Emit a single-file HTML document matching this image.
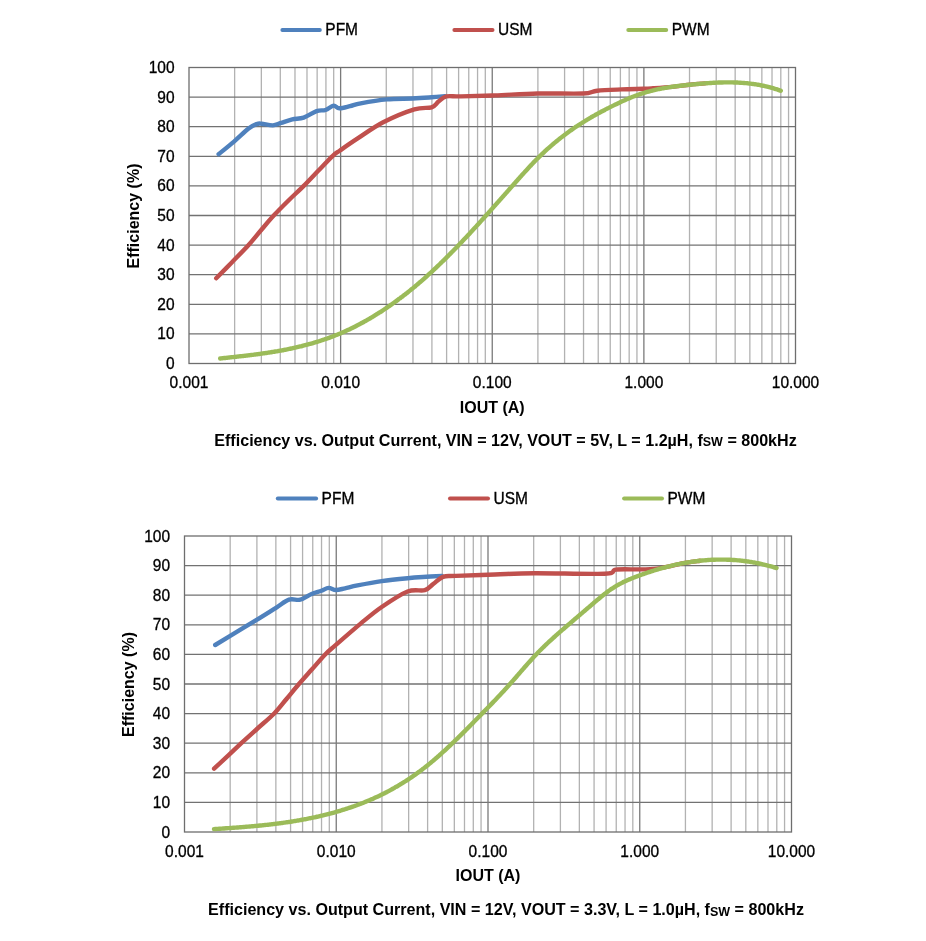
<!DOCTYPE html>
<html><head><meta charset="utf-8"><style>
html,body{margin:0;padding:0;background:#fff;}
svg{display:block;filter:blur(0.3px);}
.t{font-family:"Liberation Sans", sans-serif;font-size:15.5px;fill:#000;stroke:#000;stroke-width:0.3px;}
.b{font-family:"Liberation Sans", sans-serif;font-size:16px;font-weight:bold;fill:#000;}
.tt{font-family:"Liberation Sans", sans-serif;font-size:16.1px;font-weight:bold;fill:#000;}
.sub{font-size:12.5px;}
</style></head><body>
<svg width="926" height="941" viewBox="0 0 926 941">
<rect width="926" height="941" fill="#fff"/>
<line x1="234.64" y1="67.5" x2="234.64" y2="363.5" stroke="#b2b2b2" stroke-width="1.3"/>
<line x1="261.34" y1="67.5" x2="261.34" y2="363.5" stroke="#b2b2b2" stroke-width="1.3"/>
<line x1="280.29" y1="67.5" x2="280.29" y2="363.5" stroke="#b2b2b2" stroke-width="1.3"/>
<line x1="294.98" y1="67.5" x2="294.98" y2="363.5" stroke="#b2b2b2" stroke-width="1.3"/>
<line x1="306.99" y1="67.5" x2="306.99" y2="363.5" stroke="#b2b2b2" stroke-width="1.3"/>
<line x1="317.14" y1="67.5" x2="317.14" y2="363.5" stroke="#b2b2b2" stroke-width="1.3"/>
<line x1="325.93" y1="67.5" x2="325.93" y2="363.5" stroke="#b2b2b2" stroke-width="1.3"/>
<line x1="333.69" y1="67.5" x2="333.69" y2="363.5" stroke="#b2b2b2" stroke-width="1.3"/>
<line x1="386.27" y1="67.5" x2="386.27" y2="363.5" stroke="#b2b2b2" stroke-width="1.3"/>
<line x1="412.97" y1="67.5" x2="412.97" y2="363.5" stroke="#b2b2b2" stroke-width="1.3"/>
<line x1="431.91" y1="67.5" x2="431.91" y2="363.5" stroke="#b2b2b2" stroke-width="1.3"/>
<line x1="446.61" y1="67.5" x2="446.61" y2="363.5" stroke="#b2b2b2" stroke-width="1.3"/>
<line x1="458.61" y1="67.5" x2="458.61" y2="363.5" stroke="#b2b2b2" stroke-width="1.3"/>
<line x1="468.76" y1="67.5" x2="468.76" y2="363.5" stroke="#b2b2b2" stroke-width="1.3"/>
<line x1="477.56" y1="67.5" x2="477.56" y2="363.5" stroke="#b2b2b2" stroke-width="1.3"/>
<line x1="485.31" y1="67.5" x2="485.31" y2="363.5" stroke="#b2b2b2" stroke-width="1.3"/>
<line x1="537.89" y1="67.5" x2="537.89" y2="363.5" stroke="#b2b2b2" stroke-width="1.3"/>
<line x1="564.59" y1="67.5" x2="564.59" y2="363.5" stroke="#b2b2b2" stroke-width="1.3"/>
<line x1="583.54" y1="67.5" x2="583.54" y2="363.5" stroke="#b2b2b2" stroke-width="1.3"/>
<line x1="598.23" y1="67.5" x2="598.23" y2="363.5" stroke="#b2b2b2" stroke-width="1.3"/>
<line x1="610.24" y1="67.5" x2="610.24" y2="363.5" stroke="#b2b2b2" stroke-width="1.3"/>
<line x1="620.39" y1="67.5" x2="620.39" y2="363.5" stroke="#b2b2b2" stroke-width="1.3"/>
<line x1="629.18" y1="67.5" x2="629.18" y2="363.5" stroke="#b2b2b2" stroke-width="1.3"/>
<line x1="636.94" y1="67.5" x2="636.94" y2="363.5" stroke="#b2b2b2" stroke-width="1.3"/>
<line x1="689.52" y1="67.5" x2="689.52" y2="363.5" stroke="#b2b2b2" stroke-width="1.3"/>
<line x1="716.22" y1="67.5" x2="716.22" y2="363.5" stroke="#b2b2b2" stroke-width="1.3"/>
<line x1="735.16" y1="67.5" x2="735.16" y2="363.5" stroke="#b2b2b2" stroke-width="1.3"/>
<line x1="749.86" y1="67.5" x2="749.86" y2="363.5" stroke="#b2b2b2" stroke-width="1.3"/>
<line x1="761.86" y1="67.5" x2="761.86" y2="363.5" stroke="#b2b2b2" stroke-width="1.3"/>
<line x1="772.01" y1="67.5" x2="772.01" y2="363.5" stroke="#b2b2b2" stroke-width="1.3"/>
<line x1="780.81" y1="67.5" x2="780.81" y2="363.5" stroke="#b2b2b2" stroke-width="1.3"/>
<line x1="788.56" y1="67.5" x2="788.56" y2="363.5" stroke="#b2b2b2" stroke-width="1.3"/>
<line x1="189" y1="333.90" x2="795.5" y2="333.90" stroke="#727272" stroke-width="1.3"/>
<line x1="189" y1="304.30" x2="795.5" y2="304.30" stroke="#727272" stroke-width="1.3"/>
<line x1="189" y1="274.70" x2="795.5" y2="274.70" stroke="#727272" stroke-width="1.3"/>
<line x1="189" y1="245.10" x2="795.5" y2="245.10" stroke="#727272" stroke-width="1.3"/>
<line x1="189" y1="215.50" x2="795.5" y2="215.50" stroke="#727272" stroke-width="1.3"/>
<line x1="189" y1="185.90" x2="795.5" y2="185.90" stroke="#727272" stroke-width="1.3"/>
<line x1="189" y1="156.30" x2="795.5" y2="156.30" stroke="#727272" stroke-width="1.3"/>
<line x1="189" y1="126.70" x2="795.5" y2="126.70" stroke="#727272" stroke-width="1.3"/>
<line x1="189" y1="97.10" x2="795.5" y2="97.10" stroke="#727272" stroke-width="1.3"/>
<line x1="340.62" y1="67.5" x2="340.62" y2="363.5" stroke="#7a7a7a" stroke-width="1.3"/>
<line x1="492.25" y1="67.5" x2="492.25" y2="363.5" stroke="#7a7a7a" stroke-width="1.3"/>
<line x1="643.88" y1="67.5" x2="643.88" y2="363.5" stroke="#7a7a7a" stroke-width="1.3"/>
<rect x="189" y="67.5" width="606.5" height="296" fill="none" stroke="#6e6e6e" stroke-width="1.3"/>
<path d="M218.6,154.2 C221.17,152.10 229.00,145.87 234,141.6 C239.00,137.33 244.82,131.52 248.6,128.6 C252.38,125.68 254.53,124.92 256.7,124.1 C258.87,123.28 258.90,123.48 261.6,123.7 C264.30,123.92 269.67,125.53 272.9,125.4 C276.13,125.27 277.77,123.90 281,122.9 C284.23,121.90 288.52,120.28 292.3,119.4 C296.08,118.52 299.65,118.98 303.7,117.6 C307.75,116.22 312.97,112.37 316.6,111.1 C320.23,109.83 322.67,110.92 325.5,110 C328.33,109.08 331.30,105.88 333.6,105.6 C335.90,105.32 336.57,108.20 339.3,108.3 C342.03,108.40 346.43,107.03 350,106.2 C353.57,105.37 354.58,104.43 360.7,103.3 C366.82,102.17 378.05,100.20 386.7,99.4 C395.35,98.60 405.12,98.85 412.6,98.5 C420.08,98.15 426.20,97.68 431.6,97.3 C437.00,96.92 442.77,96.38 445,96.2" fill="none" stroke="#4F81BD" stroke-width="4.4" stroke-linecap="round" stroke-linejoin="round"/>
<path d="M216.2,278.3 C218.83,275.62 226.60,267.75 232,262.2 C237.40,256.65 243.77,250.32 248.6,245 C253.43,239.68 256.82,235.20 261,230.3 C265.18,225.40 269.12,220.57 273.7,215.6 C278.28,210.63 283.50,205.45 288.5,200.5 C293.50,195.55 298.78,190.82 303.7,185.9 C308.62,180.98 313.15,176.02 318,171 C322.85,165.98 329.13,159.22 332.8,155.8 C336.47,152.38 335.92,153.35 340,150.5 C344.08,147.65 350.10,143.40 357.3,138.7 C364.50,134.00 373.70,127.18 383.2,122.3 C392.70,117.42 406.23,111.90 414.3,109.4 C422.37,106.90 427.57,108.60 431.6,107.3 C435.63,106.00 436.05,103.42 438.5,101.6 C440.95,99.78 442.55,97.27 446.3,96.4 C450.05,95.53 452.88,96.57 461,96.4 C469.12,96.23 482.20,95.88 495,95.4 C507.80,94.92 523.13,93.82 537.8,93.5 C552.47,93.18 573.10,93.97 583,93.5 C592.90,93.03 590.73,91.38 597.2,90.7 C603.67,90.02 614.07,89.72 621.8,89.4 C629.53,89.08 638.40,88.98 643.6,88.8 C648.80,88.62 648.27,88.63 653,88.3 C657.73,87.97 665.83,87.42 672,86.83 C678.17,86.23 684.50,85.31 690,84.73 C695.50,84.15 702.50,83.60 705,83.37" fill="none" stroke="#C0504D" stroke-width="4.4" stroke-linecap="round" stroke-linejoin="round"/>
<path d="M220.2,358.49 C220.53,358.45 221.53,358.34 222.2,358.27 C222.87,358.20 223.53,358.12 224.2,358.05 C224.87,357.98 225.53,357.91 226.2,357.84 C226.87,357.77 227.53,357.69 228.2,357.62 C228.87,357.55 229.53,357.47 230.2,357.4 C230.87,357.33 231.53,357.25 232.2,357.18 C232.87,357.11 233.53,357.04 234.2,356.97 C234.87,356.90 235.53,356.81 236.2,356.74 C236.87,356.67 237.53,356.59 238.2,356.52 C238.87,356.45 239.53,356.38 240.2,356.3 C240.87,356.23 241.53,356.15 242.2,356.07 C242.87,355.99 243.53,355.91 244.2,355.83 C244.87,355.75 245.53,355.68 246.2,355.6 C246.87,355.52 247.53,355.44 248.2,355.36 C248.87,355.28 249.53,355.20 250.2,355.12 C250.87,355.04 251.53,354.95 252.2,354.87 C252.87,354.79 253.53,354.70 254.2,354.61 C254.87,354.52 255.53,354.44 256.2,354.35 C256.87,354.26 257.53,354.18 258.2,354.09 C258.87,354.00 259.53,353.91 260.2,353.82 C260.87,353.73 261.53,353.63 262.2,353.54 C262.87,353.45 263.53,353.36 264.2,353.26 C264.87,353.16 265.53,353.06 266.2,352.96 C266.87,352.86 267.53,352.76 268.2,352.66 C268.87,352.56 269.53,352.45 270.2,352.35 C270.87,352.25 271.53,352.15 272.2,352.04 C272.87,351.93 273.53,351.82 274.2,351.71 C274.87,351.60 275.53,351.49 276.2,351.38 C276.87,351.27 277.53,351.15 278.2,351.03 C278.87,350.91 279.53,350.79 280.2,350.67 C280.87,350.55 281.53,350.43 282.2,350.31 C282.87,350.19 283.53,350.06 284.2,349.93 C284.87,349.80 285.53,349.67 286.2,349.54 C286.87,349.41 287.53,349.27 288.2,349.14 C288.87,349.00 289.53,348.87 290.2,348.73 C290.87,348.59 291.53,348.45 292.2,348.31 C292.87,348.17 293.53,348.02 294.2,347.87 C294.87,347.72 295.53,347.57 296.2,347.42 C296.87,347.27 297.53,347.12 298.2,346.96 C298.87,346.80 299.53,346.64 300.2,346.48 C300.87,346.32 301.53,346.16 302.2,345.99 C302.87,345.82 303.53,345.65 304.2,345.48 C304.87,345.31 305.53,345.13 306.2,344.96 C306.87,344.78 307.53,344.61 308.2,344.43 C308.87,344.25 309.53,344.06 310.2,343.87 C310.87,343.68 311.53,343.49 312.2,343.3 C312.87,343.11 313.53,342.92 314.2,342.72 C314.87,342.52 315.53,342.32 316.2,342.12 C316.87,341.92 317.53,341.71 318.2,341.5 C318.87,341.29 319.53,341.08 320.2,340.86 C320.87,340.64 321.53,340.42 322.2,340.2 C322.87,339.98 323.53,339.76 324.2,339.53 C324.87,339.30 325.53,339.06 326.2,338.83 C326.87,338.59 327.53,338.36 328.2,338.12 C328.87,337.88 329.53,337.64 330.2,337.39 C330.87,337.14 331.53,336.89 332.2,336.64 C332.87,336.38 333.53,336.12 334.2,335.86 C334.87,335.60 335.53,335.34 336.2,335.07 C336.87,334.80 337.53,334.53 338.2,334.26 C338.87,333.99 339.53,333.70 340.2,333.42 C340.87,333.14 341.53,332.85 342.2,332.56 C342.87,332.27 343.53,331.98 344.2,331.68 C344.87,331.38 345.53,331.08 346.2,330.78 C346.87,330.48 347.53,330.17 348.2,329.86 C348.87,329.55 349.53,329.23 350.2,328.91 C350.87,328.59 351.53,328.27 352.2,327.94 C352.87,327.61 353.53,327.28 354.2,326.95 C354.87,326.62 355.53,326.28 356.2,325.94 C356.87,325.60 357.53,325.26 358.2,324.91 C358.87,324.56 359.53,324.21 360.2,323.85 C360.87,323.50 361.53,323.14 362.2,322.78 C362.87,322.42 363.53,322.05 364.2,321.68 C364.87,321.31 365.53,320.94 366.2,320.56 C366.87,320.18 367.53,319.80 368.2,319.41 C368.87,319.03 369.53,318.64 370.2,318.25 C370.87,317.86 371.53,317.46 372.2,317.06 C372.87,316.66 373.53,316.26 374.2,315.85 C374.87,315.44 375.53,315.03 376.2,314.62 C376.87,314.21 377.53,313.79 378.2,313.37 C378.87,312.95 379.53,312.52 380.2,312.09 C380.87,311.66 381.53,311.24 382.2,310.8 C382.87,310.37 383.53,309.92 384.2,309.48 C384.87,309.04 385.53,308.59 386.2,308.14 C386.87,307.69 387.53,307.24 388.2,306.78 C388.87,306.32 389.53,305.85 390.2,305.39 C390.87,304.93 391.53,304.46 392.2,303.99 C392.87,303.52 393.53,303.04 394.2,302.56 C394.87,302.08 395.53,301.60 396.2,301.11 C396.87,300.62 397.53,300.13 398.2,299.64 C398.87,299.15 399.53,298.65 400.2,298.15 C400.87,297.65 401.53,297.14 402.2,296.63 C402.87,296.12 403.53,295.62 404.2,295.1 C404.87,294.59 405.53,294.06 406.2,293.54 C406.87,293.02 407.53,292.49 408.2,291.96 C408.87,291.43 409.53,290.90 410.2,290.36 C410.87,289.82 411.53,289.28 412.2,288.73 C412.87,288.19 413.53,287.64 414.2,287.09 C414.87,286.54 415.53,285.98 416.2,285.42 C416.87,284.86 417.53,284.30 418.2,283.73 C418.87,283.16 419.53,282.59 420.2,282.02 C420.87,281.45 421.53,280.87 422.2,280.29 C422.87,279.71 423.53,279.12 424.2,278.53 C424.87,277.94 425.53,277.36 426.2,276.76 C426.87,276.16 427.53,275.56 428.2,274.96 C428.87,274.36 429.53,273.75 430.2,273.14 C430.87,272.53 431.53,271.92 432.2,271.3 C432.87,270.68 433.53,270.06 434.2,269.43 C434.87,268.81 435.53,268.18 436.2,267.55 C436.87,266.92 437.53,266.29 438.2,265.65 C438.87,265.01 439.53,264.37 440.2,263.72 C440.87,263.08 441.53,262.43 442.2,261.78 C442.87,261.13 443.53,260.48 444.2,259.82 C444.87,259.16 445.53,258.50 446.2,257.84 C446.87,257.18 447.53,256.52 448.2,255.85 C448.87,255.18 449.53,254.50 450.2,253.83 C450.87,253.16 451.53,252.49 452.2,251.81 C452.87,251.13 453.53,250.44 454.2,249.76 C454.87,249.07 455.53,248.39 456.2,247.7 C456.87,247.01 457.53,246.32 458.2,245.63 C458.87,244.94 459.53,244.24 460.2,243.54 C460.87,242.84 461.53,242.14 462.2,241.44 C462.87,240.74 463.53,240.03 464.2,239.32 C464.87,238.61 465.53,237.90 466.2,237.19 C466.87,236.48 467.53,235.77 468.2,235.05 C468.87,234.34 469.53,233.62 470.2,232.9 C470.87,232.18 471.53,231.46 472.2,230.74 C472.87,230.02 473.53,229.30 474.2,228.57 C474.87,227.84 475.53,227.11 476.2,226.38 C476.87,225.65 477.53,224.92 478.2,224.19 C478.87,223.46 479.53,222.73 480.2,221.99 C480.87,221.25 481.53,220.52 482.2,219.78 C482.87,219.04 483.53,218.31 484.2,217.57 C484.87,216.83 485.53,216.08 486.2,215.34 C486.87,214.60 487.53,213.85 488.2,213.11 C488.87,212.37 489.53,211.62 490.2,210.88 C490.87,210.13 491.53,209.39 492.2,208.64 C492.87,207.89 493.53,207.14 494.2,206.39 C494.87,205.64 495.53,204.89 496.2,204.14 C496.87,203.39 497.53,202.64 498.2,201.89 C498.87,201.14 499.53,200.38 500.2,199.63 C500.87,198.88 501.53,198.12 502.2,197.37 C502.87,196.62 503.53,195.86 504.2,195.11 C504.87,194.36 505.53,193.60 506.2,192.85 C506.87,192.10 507.53,191.34 508.2,190.59 C508.87,189.84 509.53,189.07 510.2,188.32 C510.87,187.56 511.53,186.81 512.2,186.06 C512.87,185.31 513.53,184.55 514.2,183.8 C514.87,183.05 515.53,182.29 516.2,181.54 C516.87,180.79 517.53,180.04 518.2,179.29 C518.87,178.54 519.53,177.80 520.2,177.05 C520.87,176.31 521.53,175.56 522.2,174.82 C522.87,174.08 523.53,173.35 524.2,172.61 C524.87,171.88 525.53,171.14 526.2,170.41 C526.87,169.68 527.53,168.96 528.2,168.24 C528.87,167.52 529.53,166.81 530.2,166.1 C530.87,165.39 531.53,164.68 532.2,163.98 C532.87,163.28 533.53,162.58 534.2,161.89 C534.87,161.20 535.53,160.52 536.2,159.84 C536.87,159.16 537.53,158.48 538.2,157.82 C538.87,157.16 539.53,156.50 540.2,155.85 C540.87,155.20 541.53,154.56 542.2,153.92 C542.87,153.28 543.53,152.65 544.2,152.03 C544.87,151.41 545.53,150.79 546.2,150.18 C546.87,149.57 547.53,148.97 548.2,148.37 C548.87,147.77 549.53,147.19 550.2,146.6 C550.87,146.01 551.53,145.43 552.2,144.86 C552.87,144.29 553.53,143.73 554.2,143.17 C554.87,142.61 555.53,142.06 556.2,141.51 C556.87,140.96 557.53,140.42 558.2,139.88 C558.87,139.34 559.53,138.81 560.2,138.29 C560.87,137.76 561.53,137.25 562.2,136.73 C562.87,136.21 563.53,135.70 564.2,135.2 C564.87,134.70 565.53,134.20 566.2,133.71 C566.87,133.22 567.53,132.73 568.2,132.25 C568.87,131.77 569.53,131.28 570.2,130.81 C570.87,130.34 571.53,129.87 572.2,129.41 C572.87,128.95 573.53,128.49 574.2,128.03 C574.87,127.58 575.53,127.12 576.2,126.68 C576.87,126.24 577.53,125.80 578.2,125.36 C578.87,124.92 579.53,124.49 580.2,124.06 C580.87,123.63 581.53,123.21 582.2,122.79 C582.87,122.37 583.53,121.95 584.2,121.54 C584.87,121.13 585.53,120.72 586.2,120.32 C586.87,119.92 587.53,119.52 588.2,119.12 C588.87,118.72 589.53,118.33 590.2,117.94 C590.87,117.55 591.53,117.16 592.2,116.78 C592.87,116.40 593.53,116.02 594.2,115.64 C594.87,115.26 595.53,114.88 596.2,114.51 C596.87,114.14 597.53,113.78 598.2,113.41 C598.87,113.04 599.53,112.68 600.2,112.32 C600.87,111.96 601.53,111.60 602.2,111.25 C602.87,110.90 603.53,110.55 604.2,110.2 C604.87,109.85 605.53,109.50 606.2,109.16 C606.87,108.81 607.53,108.47 608.2,108.13 C608.87,107.79 609.53,107.45 610.2,107.12 C610.87,106.79 611.53,106.45 612.2,106.12 C612.87,105.79 613.53,105.46 614.2,105.13 C614.87,104.80 615.53,104.48 616.2,104.16 C616.87,103.84 617.53,103.52 618.2,103.2 C618.87,102.88 619.53,102.57 620.2,102.26 C620.87,101.95 621.53,101.65 622.2,101.34 C622.87,101.03 623.53,100.73 624.2,100.43 C624.87,100.13 625.53,99.84 626.2,99.55 C626.87,99.26 627.53,98.97 628.2,98.69 C628.87,98.41 629.53,98.13 630.2,97.86 C630.87,97.59 631.53,97.31 632.2,97.05 C632.87,96.78 633.53,96.53 634.2,96.27 C634.87,96.01 635.53,95.76 636.2,95.51 C636.87,95.26 637.53,95.02 638.2,94.78 C638.87,94.54 639.53,94.31 640.2,94.08 C640.87,93.85 641.53,93.64 642.2,93.42 C642.87,93.20 643.53,92.99 644.2,92.78 C644.87,92.57 645.53,92.38 646.2,92.18 C646.87,91.99 647.53,91.79 648.2,91.61 C648.87,91.43 649.53,91.25 650.2,91.08 C650.87,90.91 651.53,90.73 652.2,90.57 C652.87,90.41 653.53,90.25 654.2,90.09 C654.87,89.93 655.53,89.78 656.2,89.63 C656.87,89.48 657.53,89.34 658.2,89.2 C658.87,89.06 659.53,88.93 660.2,88.8 C660.87,88.67 661.53,88.54 662.2,88.42 C662.87,88.30 663.53,88.18 664.2,88.06 C664.87,87.94 665.53,87.83 666.2,87.72 C666.87,87.61 667.53,87.50 668.2,87.39 C668.87,87.28 669.53,87.19 670.2,87.09 C670.87,86.99 671.53,86.89 672.2,86.8 C672.87,86.71 673.53,86.62 674.2,86.53 C674.87,86.44 675.53,86.35 676.2,86.27 C676.87,86.19 677.53,86.10 678.2,86.02 C678.87,85.94 679.53,85.86 680.2,85.78 C680.87,85.70 681.53,85.62 682.2,85.55 C682.87,85.48 683.53,85.41 684.2,85.34 C684.87,85.27 685.53,85.19 686.2,85.12 C686.87,85.05 687.53,84.98 688.2,84.91 C688.87,84.84 689.53,84.78 690.2,84.71 C690.87,84.64 691.53,84.58 692.2,84.51 C692.87,84.45 693.53,84.38 694.2,84.32 C694.87,84.26 695.53,84.19 696.2,84.13 C696.87,84.07 697.53,84.00 698.2,83.94 C698.87,83.88 699.53,83.82 700.2,83.76 C700.87,83.70 701.53,83.65 702.2,83.59 C702.87,83.53 703.53,83.48 704.2,83.43 C704.87,83.38 705.53,83.32 706.2,83.27 C706.87,83.22 707.53,83.18 708.2,83.13 C708.87,83.08 709.53,83.03 710.2,82.99 C710.87,82.95 711.53,82.91 712.2,82.87 C712.87,82.83 713.53,82.80 714.2,82.76 C714.87,82.73 715.53,82.69 716.2,82.66 C716.87,82.63 717.53,82.60 718.2,82.57 C718.87,82.54 719.53,82.52 720.2,82.5 C720.87,82.48 721.53,82.46 722.2,82.44 C722.87,82.42 723.53,82.41 724.2,82.4 C724.87,82.39 725.53,82.38 726.2,82.37 C726.87,82.36 727.53,82.36 728.2,82.36 C728.87,82.36 729.53,82.36 730.2,82.37 C730.87,82.38 731.53,82.39 732.2,82.4 C732.87,82.41 733.53,82.43 734.2,82.45 C734.87,82.47 735.53,82.49 736.2,82.51 C736.87,82.53 737.53,82.57 738.2,82.6 C738.87,82.63 739.53,82.67 740.2,82.71 C740.87,82.75 741.53,82.79 742.2,82.84 C742.87,82.89 743.53,82.94 744.2,83.0 C744.87,83.06 745.53,83.11 746.2,83.17 C746.87,83.23 747.53,83.31 748.2,83.38 C748.87,83.45 749.53,83.52 750.2,83.6 C750.87,83.68 751.53,83.77 752.2,83.86 C752.87,83.95 753.53,84.04 754.2,84.14 C754.87,84.24 755.53,84.33 756.2,84.44 C756.87,84.55 757.53,84.66 758.2,84.78 C758.87,84.90 759.53,85.02 760.2,85.15 C760.87,85.28 761.53,85.40 762.2,85.54 C762.87,85.68 763.53,85.82 764.2,85.97 C764.87,86.12 765.53,86.26 766.2,86.42 C766.87,86.58 767.53,86.74 768.2,86.91 C768.87,87.08 769.53,87.25 770.2,87.43 C770.87,87.61 771.53,87.80 772.2,87.99 C772.87,88.18 773.53,88.38 774.2,88.58 C774.87,88.78 775.53,88.99 776.2,89.2 C776.87,89.41 777.53,89.63 778.2,89.86 C778.87,90.09 779.77,90.41 780.2,90.56 C780.63,90.71 780.70,90.73 780.8,90.77" fill="none" stroke="#9BBB59" stroke-width="4.4" stroke-linecap="round" stroke-linejoin="round"/>
<text transform="translate(174.5,369.00) scale(1,1.08)" text-anchor="end" class="t">0</text>
<text transform="translate(174.5,339.40) scale(1,1.08)" text-anchor="end" class="t">10</text>
<text transform="translate(174.5,309.80) scale(1,1.08)" text-anchor="end" class="t">20</text>
<text transform="translate(174.5,280.20) scale(1,1.08)" text-anchor="end" class="t">30</text>
<text transform="translate(174.5,250.60) scale(1,1.08)" text-anchor="end" class="t">40</text>
<text transform="translate(174.5,221.00) scale(1,1.08)" text-anchor="end" class="t">50</text>
<text transform="translate(174.5,191.40) scale(1,1.08)" text-anchor="end" class="t">60</text>
<text transform="translate(174.5,161.80) scale(1,1.08)" text-anchor="end" class="t">70</text>
<text transform="translate(174.5,132.20) scale(1,1.08)" text-anchor="end" class="t">80</text>
<text transform="translate(174.5,102.60) scale(1,1.08)" text-anchor="end" class="t">90</text>
<text transform="translate(174.5,73.00) scale(1,1.08)" text-anchor="end" class="t">100</text>
<text transform="translate(189.00,388.1) scale(1,1.08)" text-anchor="middle" class="t">0.001</text>
<text transform="translate(340.62,388.1) scale(1,1.08)" text-anchor="middle" class="t">0.010</text>
<text transform="translate(492.25,388.1) scale(1,1.08)" text-anchor="middle" class="t">0.100</text>
<text transform="translate(643.88,388.1) scale(1,1.08)" text-anchor="middle" class="t">1.000</text>
<text transform="translate(795.50,388.1) scale(1,1.08)" text-anchor="middle" class="t">10.000</text>
<text x="492.25" y="412.7" text-anchor="middle" class="b">IOUT (A)</text>
<text transform="translate(138.6,216.0) rotate(-90)" text-anchor="middle" class="b">Efficiency (%)</text>
<text x="505.5" y="445.6" text-anchor="middle" class="tt">Efficiency vs. Output Current, VIN = 12V, VOUT = 5V, L = 1.2µH, f<tspan class="sub" dy="0.8">SW</tspan><tspan dy="-0.8"> = 800kHz</tspan></text>
<line x1="282.4" y1="29.9" x2="319.8" y2="29.9" stroke="#4F81BD" stroke-width="4" stroke-linecap="round"/>
<text transform="translate(325.3,35.0) scale(1,1.08)" class="t">PFM</text>
<line x1="454.4" y1="29.9" x2="492.5" y2="29.9" stroke="#C0504D" stroke-width="4" stroke-linecap="round"/>
<text transform="translate(498.0,35.0) scale(1,1.08)" class="t">USM</text>
<line x1="628.3" y1="29.9" x2="666.2" y2="29.9" stroke="#9BBB59" stroke-width="4" stroke-linecap="round"/>
<text transform="translate(671.7,35.0) scale(1,1.08)" class="t">PWM</text>
<line x1="230.18" y1="536" x2="230.18" y2="832" stroke="#b2b2b2" stroke-width="1.3"/>
<line x1="256.90" y1="536" x2="256.90" y2="832" stroke="#b2b2b2" stroke-width="1.3"/>
<line x1="275.86" y1="536" x2="275.86" y2="832" stroke="#b2b2b2" stroke-width="1.3"/>
<line x1="290.57" y1="536" x2="290.57" y2="832" stroke="#b2b2b2" stroke-width="1.3"/>
<line x1="302.58" y1="536" x2="302.58" y2="832" stroke="#b2b2b2" stroke-width="1.3"/>
<line x1="312.74" y1="536" x2="312.74" y2="832" stroke="#b2b2b2" stroke-width="1.3"/>
<line x1="321.54" y1="536" x2="321.54" y2="832" stroke="#b2b2b2" stroke-width="1.3"/>
<line x1="329.31" y1="536" x2="329.31" y2="832" stroke="#b2b2b2" stroke-width="1.3"/>
<line x1="381.93" y1="536" x2="381.93" y2="832" stroke="#b2b2b2" stroke-width="1.3"/>
<line x1="408.65" y1="536" x2="408.65" y2="832" stroke="#b2b2b2" stroke-width="1.3"/>
<line x1="427.61" y1="536" x2="427.61" y2="832" stroke="#b2b2b2" stroke-width="1.3"/>
<line x1="442.32" y1="536" x2="442.32" y2="832" stroke="#b2b2b2" stroke-width="1.3"/>
<line x1="454.33" y1="536" x2="454.33" y2="832" stroke="#b2b2b2" stroke-width="1.3"/>
<line x1="464.49" y1="536" x2="464.49" y2="832" stroke="#b2b2b2" stroke-width="1.3"/>
<line x1="473.29" y1="536" x2="473.29" y2="832" stroke="#b2b2b2" stroke-width="1.3"/>
<line x1="481.06" y1="536" x2="481.06" y2="832" stroke="#b2b2b2" stroke-width="1.3"/>
<line x1="533.68" y1="536" x2="533.68" y2="832" stroke="#b2b2b2" stroke-width="1.3"/>
<line x1="560.40" y1="536" x2="560.40" y2="832" stroke="#b2b2b2" stroke-width="1.3"/>
<line x1="579.36" y1="536" x2="579.36" y2="832" stroke="#b2b2b2" stroke-width="1.3"/>
<line x1="594.07" y1="536" x2="594.07" y2="832" stroke="#b2b2b2" stroke-width="1.3"/>
<line x1="606.08" y1="536" x2="606.08" y2="832" stroke="#b2b2b2" stroke-width="1.3"/>
<line x1="616.24" y1="536" x2="616.24" y2="832" stroke="#b2b2b2" stroke-width="1.3"/>
<line x1="625.04" y1="536" x2="625.04" y2="832" stroke="#b2b2b2" stroke-width="1.3"/>
<line x1="632.81" y1="536" x2="632.81" y2="832" stroke="#b2b2b2" stroke-width="1.3"/>
<line x1="685.43" y1="536" x2="685.43" y2="832" stroke="#b2b2b2" stroke-width="1.3"/>
<line x1="712.15" y1="536" x2="712.15" y2="832" stroke="#b2b2b2" stroke-width="1.3"/>
<line x1="731.11" y1="536" x2="731.11" y2="832" stroke="#b2b2b2" stroke-width="1.3"/>
<line x1="745.82" y1="536" x2="745.82" y2="832" stroke="#b2b2b2" stroke-width="1.3"/>
<line x1="757.83" y1="536" x2="757.83" y2="832" stroke="#b2b2b2" stroke-width="1.3"/>
<line x1="767.99" y1="536" x2="767.99" y2="832" stroke="#b2b2b2" stroke-width="1.3"/>
<line x1="776.79" y1="536" x2="776.79" y2="832" stroke="#b2b2b2" stroke-width="1.3"/>
<line x1="784.56" y1="536" x2="784.56" y2="832" stroke="#b2b2b2" stroke-width="1.3"/>
<line x1="184.5" y1="802.40" x2="791.5" y2="802.40" stroke="#727272" stroke-width="1.3"/>
<line x1="184.5" y1="772.80" x2="791.5" y2="772.80" stroke="#727272" stroke-width="1.3"/>
<line x1="184.5" y1="743.20" x2="791.5" y2="743.20" stroke="#727272" stroke-width="1.3"/>
<line x1="184.5" y1="713.60" x2="791.5" y2="713.60" stroke="#727272" stroke-width="1.3"/>
<line x1="184.5" y1="684.00" x2="791.5" y2="684.00" stroke="#727272" stroke-width="1.3"/>
<line x1="184.5" y1="654.40" x2="791.5" y2="654.40" stroke="#727272" stroke-width="1.3"/>
<line x1="184.5" y1="624.80" x2="791.5" y2="624.80" stroke="#727272" stroke-width="1.3"/>
<line x1="184.5" y1="595.20" x2="791.5" y2="595.20" stroke="#727272" stroke-width="1.3"/>
<line x1="184.5" y1="565.60" x2="791.5" y2="565.60" stroke="#727272" stroke-width="1.3"/>
<line x1="336.25" y1="536" x2="336.25" y2="832" stroke="#7a7a7a" stroke-width="1.3"/>
<line x1="488.00" y1="536" x2="488.00" y2="832" stroke="#7a7a7a" stroke-width="1.3"/>
<line x1="639.75" y1="536" x2="639.75" y2="832" stroke="#7a7a7a" stroke-width="1.3"/>
<rect x="184.5" y="536" width="607" height="296" fill="none" stroke="#6e6e6e" stroke-width="1.3"/>
<path d="M215.2,645 C217.63,643.52 222.90,640.28 229.8,636.1 C236.70,631.92 248.90,624.62 256.6,619.9 C264.30,615.18 270.60,611.17 276,607.8 C281.40,604.43 284.95,601.05 289,599.7 C293.05,598.35 296.53,600.65 300.3,599.7 C304.07,598.75 308.08,595.48 311.6,594 C315.12,592.52 318.57,591.82 321.4,590.8 C324.23,589.78 326.18,588.03 328.6,587.9 C331.02,587.77 333.17,589.93 335.9,590 C338.63,590.07 341.40,589.07 345,588.3 C348.60,587.53 351.38,586.60 357.5,585.4 C363.62,584.20 373.35,582.30 381.7,581.1 C390.05,579.90 400.12,578.92 407.6,578.2 C415.08,577.48 420.87,577.18 426.6,576.8 C432.33,576.42 439.43,576.05 442,575.9" fill="none" stroke="#4F81BD" stroke-width="4.4" stroke-linecap="round" stroke-linejoin="round"/>
<path d="M214.1,768.7 C218.63,764.45 234.07,749.90 241.3,743.2 C248.53,736.50 252.02,733.45 257.5,728.5 C262.98,723.55 269.37,718.42 274.2,713.5 C279.03,708.58 282.42,703.87 286.5,699 C290.58,694.13 294.45,689.25 298.7,684.3 C302.95,679.35 307.58,674.27 312,669.3 C316.42,664.33 321.37,658.43 325.2,654.5 C329.03,650.57 329.05,650.88 335,645.7 C340.95,640.52 353.12,629.85 360.9,623.4 C368.68,616.95 373.92,612.32 381.7,607 C389.48,601.68 400.42,594.32 407.6,591.5 C414.78,588.68 420.48,591.40 424.8,590.1 C429.12,588.80 430.47,585.92 433.5,583.7 C436.53,581.48 439.25,578.10 443,576.8 C446.75,575.50 447.33,576.28 456,575.9 C464.67,575.52 481.93,574.95 495,574.5 C508.07,574.05 516.15,573.33 534.4,573.2 C552.65,573.07 590.90,574.30 604.5,573.7 C618.10,573.10 610.10,570.32 616,569.6 C621.90,568.88 633.07,569.57 639.9,569.4 C646.73,569.23 652.32,569.07 657,568.6 C661.68,568.13 663.33,567.52 668,566.57 C672.67,565.62 679.67,563.87 685,562.9 C690.33,561.93 697.50,561.11 700,560.75" fill="none" stroke="#C0504D" stroke-width="4.4" stroke-linecap="round" stroke-linejoin="round"/>
<path d="M214.0,829.08 C214.33,829.06 215.33,829.00 216.0,828.96 C216.67,828.92 217.33,828.87 218.0,828.83 C218.67,828.79 219.33,828.74 220.0,828.7 C220.67,828.66 221.33,828.62 222.0,828.57 C222.67,828.53 223.33,828.47 224.0,828.43 C224.67,828.38 225.33,828.34 226.0,828.3 C226.67,828.25 227.33,828.21 228.0,828.16 C228.67,828.11 229.33,828.07 230.0,828.02 C230.67,827.97 231.33,827.93 232.0,827.88 C232.67,827.83 233.33,827.79 234.0,827.74 C234.67,827.69 235.33,827.64 236.0,827.59 C236.67,827.54 237.33,827.50 238.0,827.45 C238.67,827.40 239.33,827.34 240.0,827.29 C240.67,827.24 241.33,827.19 242.0,827.14 C242.67,827.09 243.33,827.04 244.0,826.98 C244.67,826.92 245.33,826.87 246.0,826.81 C246.67,826.75 247.33,826.70 248.0,826.65 C248.67,826.60 249.33,826.54 250.0,826.48 C250.67,826.42 251.33,826.36 252.0,826.3 C252.67,826.24 253.33,826.18 254.0,826.12 C254.67,826.06 255.33,825.99 256.0,825.93 C256.67,825.87 257.33,825.80 258.0,825.74 C258.67,825.68 259.33,825.62 260.0,825.55 C260.67,825.48 261.33,825.41 262.0,825.34 C262.67,825.27 263.33,825.21 264.0,825.14 C264.67,825.07 265.33,824.99 266.0,824.92 C266.67,824.85 267.33,824.78 268.0,824.7 C268.67,824.62 269.33,824.55 270.0,824.47 C270.67,824.39 271.33,824.32 272.0,824.24 C272.67,824.16 273.33,824.08 274.0,824.0 C274.67,823.92 275.33,823.83 276.0,823.75 C276.67,823.67 277.33,823.59 278.0,823.5 C278.67,823.41 279.33,823.33 280.0,823.24 C280.67,823.15 281.33,823.06 282.0,822.97 C282.67,822.88 283.33,822.79 284.0,822.69 C284.67,822.60 285.33,822.50 286.0,822.4 C286.67,822.30 287.33,822.21 288.0,822.11 C288.67,822.01 289.33,821.91 290.0,821.81 C290.67,821.71 291.33,821.60 292.0,821.49 C292.67,821.38 293.33,821.28 294.0,821.17 C294.67,821.06 295.33,820.95 296.0,820.84 C296.67,820.73 297.33,820.62 298.0,820.5 C298.67,820.38 299.33,820.27 300.0,820.15 C300.67,820.03 301.33,819.91 302.0,819.79 C302.67,819.67 303.33,819.54 304.0,819.42 C304.67,819.29 305.33,819.17 306.0,819.04 C306.67,818.91 307.33,818.78 308.0,818.65 C308.67,818.52 309.33,818.38 310.0,818.25 C310.67,818.12 311.33,817.98 312.0,817.84 C312.67,817.70 313.33,817.56 314.0,817.42 C314.67,817.28 315.33,817.13 316.0,816.98 C316.67,816.83 317.33,816.69 318.0,816.54 C318.67,816.39 319.33,816.24 320.0,816.08 C320.67,815.93 321.33,815.77 322.0,815.61 C322.67,815.45 323.33,815.28 324.0,815.12 C324.67,814.96 325.33,814.80 326.0,814.63 C326.67,814.46 327.33,814.29 328.0,814.12 C328.67,813.95 329.33,813.78 330.0,813.6 C330.67,813.42 331.33,813.24 332.0,813.06 C332.67,812.88 333.33,812.70 334.0,812.52 C334.67,812.34 335.33,812.15 336.0,811.96 C336.67,811.77 337.33,811.58 338.0,811.38 C338.67,811.18 339.33,810.99 340.0,810.79 C340.67,810.59 341.33,810.39 342.0,810.19 C342.67,809.99 343.33,809.78 344.0,809.57 C344.67,809.36 345.33,809.14 346.0,808.93 C346.67,808.71 347.33,808.50 348.0,808.28 C348.67,808.06 349.33,807.84 350.0,807.62 C350.67,807.40 351.33,807.17 352.0,806.94 C352.67,806.71 353.33,806.48 354.0,806.24 C354.67,806.00 355.33,805.76 356.0,805.52 C356.67,805.28 357.33,805.04 358.0,804.79 C358.67,804.54 359.33,804.28 360.0,804.03 C360.67,803.77 361.33,803.52 362.0,803.26 C362.67,803.00 363.33,802.74 364.0,802.47 C364.67,802.20 365.33,801.93 366.0,801.66 C366.67,801.39 367.33,801.12 368.0,800.84 C368.67,800.56 369.33,800.28 370.0,799.99 C370.67,799.70 371.33,799.41 372.0,799.12 C372.67,798.83 373.33,798.53 374.0,798.23 C374.67,797.93 375.33,797.63 376.0,797.32 C376.67,797.01 377.33,796.71 378.0,796.39 C378.67,796.07 379.33,795.75 380.0,795.43 C380.67,795.11 381.33,794.79 382.0,794.46 C382.67,794.13 383.33,793.80 384.0,793.46 C384.67,793.12 385.33,792.79 386.0,792.44 C386.67,792.10 387.33,791.74 388.0,791.39 C388.67,791.04 389.33,790.68 390.0,790.32 C390.67,789.96 391.33,789.60 392.0,789.23 C392.67,788.86 393.33,788.49 394.0,788.11 C394.67,787.73 395.33,787.36 396.0,786.97 C396.67,786.59 397.33,786.19 398.0,785.8 C398.67,785.40 399.33,785.00 400.0,784.6 C400.67,784.20 401.33,783.79 402.0,783.38 C402.67,782.97 403.33,782.56 404.0,782.14 C404.67,781.72 405.33,781.29 406.0,780.86 C406.67,780.43 407.33,780.00 408.0,779.56 C408.67,779.12 409.33,778.68 410.0,778.23 C410.67,777.78 411.33,777.34 412.0,776.88 C412.67,776.42 413.33,775.96 414.0,775.49 C414.67,775.02 415.33,774.56 416.0,774.08 C416.67,773.60 417.33,773.12 418.0,772.63 C418.67,772.14 419.33,771.65 420.0,771.16 C420.67,770.66 421.33,770.17 422.0,769.66 C422.67,769.15 423.33,768.64 424.0,768.12 C424.67,767.60 425.33,767.09 426.0,766.56 C426.67,766.03 427.33,765.50 428.0,764.96 C428.67,764.42 429.33,763.88 430.0,763.33 C430.67,762.78 431.33,762.23 432.0,761.67 C432.67,761.11 433.33,760.55 434.0,759.98 C434.67,759.41 435.33,758.84 436.0,758.26 C436.67,757.68 437.33,757.11 438.0,756.52 C438.67,755.93 439.33,755.35 440.0,754.75 C440.67,754.15 441.33,753.55 442.0,752.95 C442.67,752.35 443.33,751.74 444.0,751.13 C444.67,750.52 445.33,749.91 446.0,749.29 C446.67,748.67 447.33,748.05 448.0,747.43 C448.67,746.81 449.33,746.18 450.0,745.55 C450.67,744.92 451.33,744.29 452.0,743.65 C452.67,743.01 453.33,742.37 454.0,741.73 C454.67,741.09 455.33,740.44 456.0,739.79 C456.67,739.14 457.33,738.49 458.0,737.84 C458.67,737.19 459.33,736.54 460.0,735.88 C460.67,735.22 461.33,734.56 462.0,733.9 C462.67,733.24 463.33,732.57 464.0,731.91 C464.67,731.25 465.33,730.58 466.0,729.91 C466.67,729.24 467.33,728.56 468.0,727.89 C468.67,727.22 469.33,726.55 470.0,725.88 C470.67,725.21 471.33,724.53 472.0,723.85 C472.67,723.17 473.33,722.50 474.0,721.82 C474.67,721.14 475.33,720.46 476.0,719.78 C476.67,719.10 477.33,718.42 478.0,717.74 C478.67,717.06 479.33,716.37 480.0,715.69 C480.67,715.01 481.33,714.33 482.0,713.65 C482.67,712.97 483.33,712.28 484.0,711.6 C484.67,710.92 485.33,710.23 486.0,709.55 C486.67,708.87 487.33,708.18 488.0,707.49 C488.67,706.80 489.33,706.12 490.0,705.43 C490.67,704.74 491.33,704.05 492.0,703.36 C492.67,702.67 493.33,701.97 494.0,701.28 C494.67,700.59 495.33,699.89 496.0,699.19 C496.67,698.49 497.33,697.79 498.0,697.08 C498.67,696.37 499.33,695.66 500.0,694.95 C500.67,694.24 501.33,693.53 502.0,692.81 C502.67,692.09 503.33,691.37 504.0,690.65 C504.67,689.93 505.33,689.20 506.0,688.47 C506.67,687.74 507.33,687.00 508.0,686.26 C508.67,685.52 509.33,684.78 510.0,684.03 C510.67,683.28 511.33,682.53 512.0,681.77 C512.67,681.01 513.33,680.25 514.0,679.49 C514.67,678.73 515.33,677.96 516.0,677.19 C516.67,676.42 517.33,675.66 518.0,674.89 C518.67,674.12 519.33,673.35 520.0,672.58 C520.67,671.81 521.33,671.04 522.0,670.27 C522.67,669.50 523.33,668.74 524.0,667.97 C524.67,667.21 525.33,666.44 526.0,665.68 C526.67,664.92 527.33,664.16 528.0,663.41 C528.67,662.66 529.33,661.91 530.0,661.17 C530.67,660.43 531.33,659.69 532.0,658.96 C532.67,658.23 533.33,657.50 534.0,656.78 C534.67,656.06 535.33,655.35 536.0,654.65 C536.67,653.95 537.33,653.26 538.0,652.57 C538.67,651.88 539.33,651.19 540.0,650.52 C540.67,649.85 541.33,649.19 542.0,648.53 C542.67,647.87 543.33,647.22 544.0,646.57 C544.67,645.92 545.33,645.28 546.0,644.64 C546.67,644.00 547.33,643.38 548.0,642.75 C548.67,642.12 549.33,641.50 550.0,640.89 C550.67,640.27 551.33,639.67 552.0,639.06 C552.67,638.45 553.33,637.85 554.0,637.25 C554.67,636.65 555.33,636.06 556.0,635.47 C556.67,634.88 557.33,634.29 558.0,633.7 C558.67,633.11 559.33,632.53 560.0,631.95 C560.67,631.37 561.33,630.79 562.0,630.21 C562.67,629.63 563.33,629.06 564.0,628.48 C564.67,627.90 565.33,627.33 566.0,626.76 C566.67,626.19 567.33,625.61 568.0,625.04 C568.67,624.47 569.33,623.90 570.0,623.33 C570.67,622.76 571.33,622.19 572.0,621.62 C572.67,621.05 573.33,620.47 574.0,619.9 C574.67,619.33 575.33,618.76 576.0,618.19 C576.67,617.62 577.33,617.05 578.0,616.48 C578.67,615.91 579.33,615.34 580.0,614.77 C580.67,614.20 581.33,613.63 582.0,613.06 C582.67,612.49 583.33,611.91 584.0,611.34 C584.67,610.77 585.33,610.20 586.0,609.63 C586.67,609.06 587.33,608.49 588.0,607.92 C588.67,607.35 589.33,606.78 590.0,606.21 C590.67,605.64 591.33,605.06 592.0,604.49 C592.67,603.92 593.33,603.35 594.0,602.78 C594.67,602.21 595.33,601.63 596.0,601.06 C596.67,600.49 597.33,599.92 598.0,599.36 C598.67,598.80 599.33,598.23 600.0,597.68 C600.67,597.12 601.33,596.57 602.0,596.03 C602.67,595.49 603.33,594.95 604.0,594.43 C604.67,593.91 605.33,593.39 606.0,592.89 C606.67,592.39 607.33,591.89 608.0,591.41 C608.67,590.93 609.33,590.46 610.0,590.0 C610.67,589.54 611.33,589.09 612.0,588.65 C612.67,588.21 613.33,587.79 614.0,587.37 C614.67,586.95 615.33,586.54 616.0,586.15 C616.67,585.75 617.33,585.38 618.0,585.0 C618.67,584.62 619.33,584.26 620.0,583.9 C620.67,583.54 621.33,583.20 622.0,582.86 C622.67,582.52 623.33,582.18 624.0,581.86 C624.67,581.54 625.33,581.23 626.0,580.92 C626.67,580.61 627.33,580.30 628.0,580.01 C628.67,579.72 629.33,579.43 630.0,579.15 C630.67,578.87 631.33,578.59 632.0,578.32 C632.67,578.05 633.33,577.77 634.0,577.51 C634.67,577.25 635.33,577.00 636.0,576.74 C636.67,576.49 637.33,576.23 638.0,575.98 C638.67,575.73 639.33,575.48 640.0,575.24 C640.67,575.00 641.33,574.76 642.0,574.52 C642.67,574.28 643.33,574.05 644.0,573.82 C644.67,573.59 645.33,573.35 646.0,573.12 C646.67,572.89 647.33,572.67 648.0,572.45 C648.67,572.23 649.33,572.01 650.0,571.79 C650.67,571.57 651.33,571.35 652.0,571.14 C652.67,570.93 653.33,570.72 654.0,570.51 C654.67,570.30 655.33,570.10 656.0,569.9 C656.67,569.70 657.33,569.50 658.0,569.3 C658.67,569.10 659.33,568.91 660.0,568.72 C660.67,568.53 661.33,568.35 662.0,568.16 C662.67,567.97 663.33,567.79 664.0,567.61 C664.67,567.43 665.33,567.25 666.0,567.08 C666.67,566.91 667.33,566.74 668.0,566.57 C668.67,566.40 669.33,566.23 670.0,566.07 C670.67,565.91 671.33,565.75 672.0,565.59 C672.67,565.43 673.33,565.28 674.0,565.13 C674.67,564.98 675.33,564.83 676.0,564.68 C676.67,564.53 677.33,564.39 678.0,564.25 C678.67,564.11 679.33,563.97 680.0,563.84 C680.67,563.71 681.33,563.58 682.0,563.45 C682.67,563.32 683.33,563.20 684.0,563.08 C684.67,562.96 685.33,562.84 686.0,562.72 C686.67,562.60 687.33,562.49 688.0,562.38 C688.67,562.27 689.33,562.16 690.0,562.06 C690.67,561.96 691.33,561.86 692.0,561.76 C692.67,561.66 693.33,561.57 694.0,561.48 C694.67,561.39 695.33,561.30 696.0,561.22 C696.67,561.14 697.33,561.06 698.0,560.98 C698.67,560.90 699.33,560.82 700.0,560.75 C700.67,560.68 701.33,560.62 702.0,560.55 C702.67,560.48 703.33,560.42 704.0,560.36 C704.67,560.30 705.33,560.25 706.0,560.2 C706.67,560.15 707.33,560.10 708.0,560.05 C708.67,560.00 709.33,559.96 710.0,559.92 C710.67,559.88 711.33,559.85 712.0,559.82 C712.67,559.79 713.33,559.75 714.0,559.73 C714.67,559.71 715.33,559.69 716.0,559.67 C716.67,559.65 717.33,559.63 718.0,559.62 C718.67,559.61 719.33,559.60 720.0,559.6 C720.67,559.60 721.33,559.60 722.0,559.6 C722.67,559.60 723.33,559.60 724.0,559.61 C724.67,559.62 725.33,559.63 726.0,559.65 C726.67,559.67 727.33,559.69 728.0,559.71 C728.67,559.74 729.33,559.77 730.0,559.8 C730.67,559.83 731.33,559.86 732.0,559.9 C732.67,559.94 733.33,559.99 734.0,560.03 C734.67,560.07 735.33,560.12 736.0,560.17 C736.67,560.22 737.33,560.28 738.0,560.34 C738.67,560.40 739.33,560.46 740.0,560.53 C740.67,560.60 741.33,560.67 742.0,560.75 C742.67,560.83 743.33,560.90 744.0,560.98 C744.67,561.06 745.33,561.15 746.0,561.24 C746.67,561.33 747.33,561.42 748.0,561.52 C748.67,561.62 749.33,561.72 750.0,561.83 C750.67,561.94 751.33,562.05 752.0,562.16 C752.67,562.27 753.33,562.39 754.0,562.51 C754.67,562.63 755.33,562.75 756.0,562.88 C756.67,563.01 757.33,563.14 758.0,563.28 C758.67,563.42 759.33,563.56 760.0,563.7 C760.67,563.85 761.33,564.00 762.0,564.15 C762.67,564.30 763.33,564.46 764.0,564.62 C764.67,564.78 765.33,564.94 766.0,565.11 C766.67,565.28 767.33,565.45 768.0,565.63 C768.67,565.81 769.33,565.98 770.0,566.17 C770.67,566.36 771.33,566.55 772.0,566.74 C772.67,566.93 773.33,567.13 774.0,567.33 C774.67,567.53 775.58,567.81 776.0,567.94 C776.42,568.07 776.42,568.07 776.5,568.1" fill="none" stroke="#9BBB59" stroke-width="4.4" stroke-linecap="round" stroke-linejoin="round"/>
<text transform="translate(170.0,837.50) scale(1,1.08)" text-anchor="end" class="t">0</text>
<text transform="translate(170.0,807.90) scale(1,1.08)" text-anchor="end" class="t">10</text>
<text transform="translate(170.0,778.30) scale(1,1.08)" text-anchor="end" class="t">20</text>
<text transform="translate(170.0,748.70) scale(1,1.08)" text-anchor="end" class="t">30</text>
<text transform="translate(170.0,719.10) scale(1,1.08)" text-anchor="end" class="t">40</text>
<text transform="translate(170.0,689.50) scale(1,1.08)" text-anchor="end" class="t">50</text>
<text transform="translate(170.0,659.90) scale(1,1.08)" text-anchor="end" class="t">60</text>
<text transform="translate(170.0,630.30) scale(1,1.08)" text-anchor="end" class="t">70</text>
<text transform="translate(170.0,600.70) scale(1,1.08)" text-anchor="end" class="t">80</text>
<text transform="translate(170.0,571.10) scale(1,1.08)" text-anchor="end" class="t">90</text>
<text transform="translate(170.0,541.50) scale(1,1.08)" text-anchor="end" class="t">100</text>
<text transform="translate(184.50,856.6) scale(1,1.08)" text-anchor="middle" class="t">0.001</text>
<text transform="translate(336.25,856.6) scale(1,1.08)" text-anchor="middle" class="t">0.010</text>
<text transform="translate(488.00,856.6) scale(1,1.08)" text-anchor="middle" class="t">0.100</text>
<text transform="translate(639.75,856.6) scale(1,1.08)" text-anchor="middle" class="t">1.000</text>
<text transform="translate(791.50,856.6) scale(1,1.08)" text-anchor="middle" class="t">10.000</text>
<text x="488.00" y="881.2" text-anchor="middle" class="b">IOUT (A)</text>
<text transform="translate(134.1,684.5) rotate(-90)" text-anchor="middle" class="b">Efficiency (%)</text>
<text x="506" y="915.4" text-anchor="middle" class="tt">Efficiency vs. Output Current, VIN = 12V, VOUT = 3.3V, L = 1.0µH, f<tspan class="sub" dy="0.8">SW</tspan><tspan dy="-0.8"> = 800kHz</tspan></text>
<line x1="277.8" y1="498.6" x2="316.1" y2="498.6" stroke="#4F81BD" stroke-width="4" stroke-linecap="round"/>
<text transform="translate(321.6,503.70000000000005) scale(1,1.08)" class="t">PFM</text>
<line x1="450" y1="498.6" x2="488" y2="498.6" stroke="#C0504D" stroke-width="4" stroke-linecap="round"/>
<text transform="translate(493.5,503.70000000000005) scale(1,1.08)" class="t">USM</text>
<line x1="624.1" y1="498.6" x2="662" y2="498.6" stroke="#9BBB59" stroke-width="4" stroke-linecap="round"/>
<text transform="translate(667.5,503.70000000000005) scale(1,1.08)" class="t">PWM</text>
</svg>
</body></html>
